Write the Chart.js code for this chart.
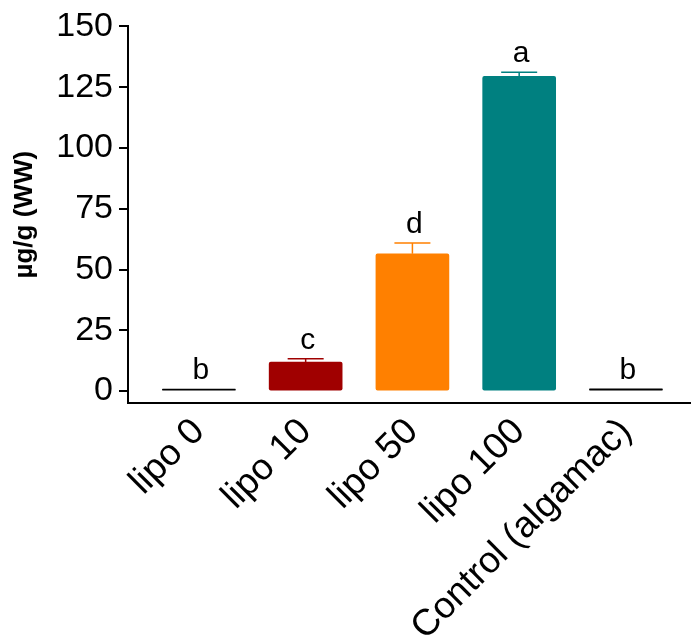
<!DOCTYPE html>
<html>
<head>
<meta charset="utf-8">
<script src="https://cdn.jsdelivr.net/npm/chart.js@4"></script>
<style>
  html, body { margin: 0; padding: 0; background: #fff; }
  #wrap { width: 691px; height: 640px; }
</style>
</head>
<body>
<div id="wrap"><canvas id="chart"></canvas></div>
<script>
// groups and measured values (ug/g WW)
const groups = ['lipo 0', 'lipo 10', 'lipo 50', 'lipo 100', 'Control (algamac)'];
const means = [0.8, 11.9, 56.5, 129.5, 0.9];
const errors = [0, 1.4, 4.4, 1.6, 0];
const letters = ['b', 'c', 'd', 'a', 'b'];
const colors = ['#000000', '#A00000', '#FF8000', '#008080', '#000000'];
const yTicks = [0, 25, 50, 75, 100, 125, 150];

const FONT = "'Liberation Sans', Arial, Helvetica, sans-serif";

// error bars (upper only) + significance letters
const errorBarPlugin = {
    id: 'errorBars',
    afterDatasetsDraw(chart) {
        const ctx = chart.ctx;
        const x = chart.scales.x;
        const y = chart.scales.y;
        ctx.save();
        means.forEach(function(m, i) {
            const cx = x.getPixelForValue(i);
            const top = y.getPixelForValue(m + errors[i]);
            if (errors[i] > 0) {
                ctx.strokeStyle = colors[i];
                ctx.lineWidth = 1.5;
                ctx.beginPath();
                ctx.moveTo(cx, y.getPixelForValue(m));
                ctx.lineTo(cx, top);
                ctx.moveTo(cx - 18, top);
                ctx.lineTo(cx + 18, top);
                ctx.stroke();
            }
            ctx.fillStyle = '#000';
            ctx.font = '30px ' + FONT;
            ctx.textAlign = 'center';
            ctx.textBaseline = 'alphabetic';
            ctx.fillText(letters[i], cx + 2, top - 10);
        });
        ctx.restore();
    }
};

const ctx = document.getElementById('chart').getContext('2d');
new Chart(ctx, {
    type: 'bar',
    data: {
        datasets: [{
            data: means.map(function(v, i) { return { x: i, y: v }; }),
            backgroundColor: colors,
            borderWidth: 0,
            borderRadius: 2,
            borderSkipped: false,
            barThickness: 73
        }]
    },
    options: {
        responsive: true,
        maintainAspectRatio: false,
        animation: false,
        layout: { padding: { top: 23, right: 1, left: 0, bottom: 0 } },
        plugins: {
            legend: { display: false },
            tooltip: { enabled: false }
        },
        scales: {
            x: {
                type: 'linear',
                offset: false,
                min: -0.664,
                max: 4.6,
                afterBuildTicks: function(s) { s.ticks = groups.map(function(g, i) { return { value: i }; }); },
                afterFit: function(s) { s.height = 237; },
                grid: { display: false },
                border: { display: true, color: '#000', width: 2 },
                ticks: {
                    autoSkip: false,
                    minRotation: 45,
                    maxRotation: 45,
                    padding: -1,
                    color: '#000',
                    font: { family: FONT, size: 37 },
                    callback: function(v) { return groups[v]; }
                }
            },
            y: {
                min: -4.9,
                max: 150,
                afterBuildTicks: function(s) { s.ticks = yTicks.map(function(v) { return { value: v }; }); },
                afterFit: function(s) { s.width = 128; },
                grid: { drawOnChartArea: false, color: '#000', lineWidth: 2, tickLength: 9 },
                border: { display: true, color: '#000', width: 2 },
                ticks: {
                    padding: 6,
                    color: '#000',
                    font: { family: FONT, size: 34 }
                },
                title: {
                    display: true,
                    text: 'µg/g (WW)',
                    color: '#000',
                    padding: { top: 9, bottom: 0 },
                    font: { family: FONT, size: 26, weight: 'bold' }
                }
            }
        }
    },
    plugins: [errorBarPlugin]
});
</script>
</body>
</html>
